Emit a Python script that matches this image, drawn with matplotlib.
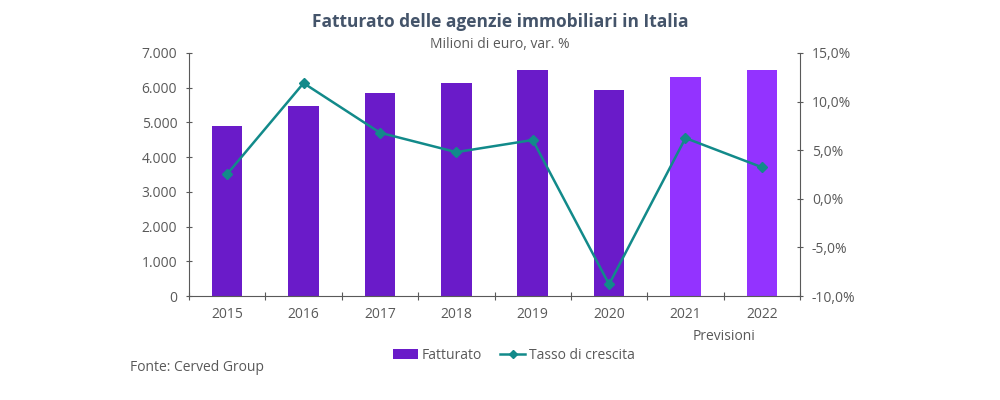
import matplotlib
matplotlib.use("Agg")
import matplotlib.pyplot as plt
from matplotlib.ticker import FuncFormatter, FixedLocator, NullFormatter
from matplotlib.lines import Line2D
from matplotlib.patches import Patch

plt.rcParams['font.family'] = ['Open Sans', 'DejaVu Sans']

# Data
anni = ["2015", "2016", "2017", "2018", "2019", "2020", "2021", "2022"]
fatturato = [4900, 5480, 5850, 6130, 6500, 5930, 6300, 6500]
tasso = [2.55, 11.9, 6.8, 4.8, 6.05, -8.8, 6.25, 3.25]
previsione = [False, False, False, False, False, False, True, True]

col_bar = "#6A1BC9"
col_prev = "#9333FF"
col_line = "#128A8A"
col_text = "#595959"
col_axis = "#595959"

fig = plt.figure(figsize=(10, 4), dpi=100)
ax = fig.add_axes([0.189, 0.26, 0.611, 0.6075])
ax2 = ax.twinx()

x = list(range(len(anni)))
colors = [col_prev if p else col_bar for p in previsione]
ax.bar(x, fatturato, width=0.4, color=colors, zorder=2)
ax2.plot(x, tasso, color=col_line, marker="D", markersize=5, linewidth=1.8, zorder=3)

ax.set_xlim(-0.5, len(anni) - 0.5)
ax.set_ylim(0, 7000)
ax2.set_ylim(-10, 15)

ax.set_yticks(range(0, 7001, 1000))
ax.yaxis.set_major_formatter(FuncFormatter(lambda v, p: f"{int(v):,}".replace(",", ".")))
ax2.set_yticks(range(-10, 16, 5))
ax2.yaxis.set_major_formatter(FuncFormatter(lambda v, p: f"{v:.1f}%".replace(".", ",")))

# x ticks marks between categories, labels at centers
ax.xaxis.set_major_locator(FixedLocator([i - 0.5 for i in range(len(anni) + 1)]))
ax.xaxis.set_major_formatter(NullFormatter())
ax.xaxis.set_minor_locator(FixedLocator(x))
ax.set_xticklabels(anni, minor=True)
ax.tick_params(axis="x", which="minor", length=0, pad=8, labelsize=10, labelcolor=col_text)
ax.tick_params(axis="x", which="major", length=6, direction="inout", color=col_axis)
ax.tick_params(axis="y", length=5, direction="inout", color=col_axis, labelsize=10,
               labelcolor=col_text, pad=6)
ax2.tick_params(axis="y", length=5, direction="inout", color=col_axis, labelsize=10,
                labelcolor=col_text, pad=6)

for a in (ax, ax2):
    a.spines["top"].set_visible(False)
    for s in ("left", "right", "bottom"):
        a.spines[s].set_color(col_axis)
ax.spines["right"].set_visible(False)
ax2.spines["left"].set_visible(False)
ax2.spines["bottom"].set_visible(False)

ax.text(6.5, -0.135, "Previsioni", transform=ax.get_xaxis_transform(), ha="center",
        va="top", fontsize=10, color=col_text)

fig.text(0.5, 0.945, "Fatturato delle agenzie immobiliari in Italia", ha="center",
         va="center", fontsize=12.5, fontweight="bold", color="#44546A")
fig.text(0.5, 0.89, "Milioni di euro, var. %", ha="center", va="center",
         fontsize=10, color=col_text)
fig.text(0.13, 0.082, "Fonte: Cerved Group", ha="left", va="center", fontsize=10,
         color=col_text)

handles = [Patch(facecolor=col_bar, label="Fatturato"),
           Line2D([], [], color=col_line, marker="D", markersize=4, linewidth=1.8,
                  label="Tasso di crescita")]
fig.legend(handles=handles, loc="center", bbox_to_anchor=(0.514, 0.112), ncol=2, frameon=False,
           fontsize=10, labelcolor=col_text, handlelength=1.8, columnspacing=1.3,
           handletextpad=0.3)

fig.savefig("out.png", dpi=100)
